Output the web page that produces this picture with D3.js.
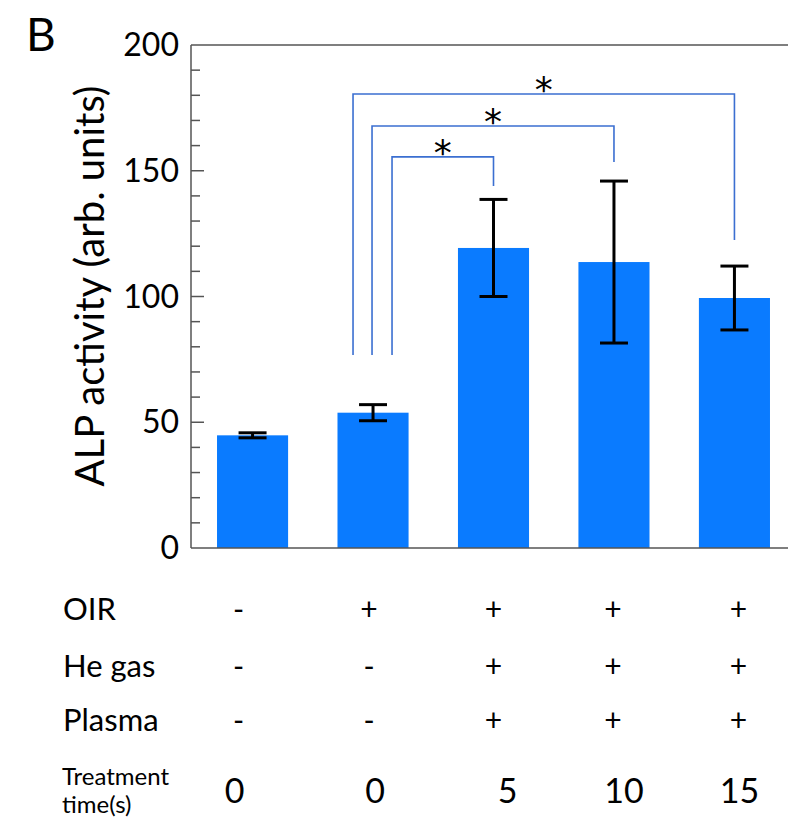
<!DOCTYPE html>
<html>
<head>
<meta charset="utf-8">
<script src="https://cdn.jsdelivr.net/npm/d3@7.9.0/dist/d3.min.js"></script>
<style>
  body { margin: 0; background: #fff; }
  svg { font-family: Lato, 'Open Sans', sans-serif; }
</style>
</head>
<body>
<svg id="chart" width="788" height="824"></svg>
<script>
const groups = ['g1', 'g2', 'g3', 'g4', 'g5'];
const means = [44.8, 53.8, 119.3, 113.7, 99.4];
const errors = [1.0, 3.2, 19.3, 32.2, 12.7];
const yTicks = [0, 50, 100, 150, 200];

// significance brackets: from group, to group, bracket height, leg ends
const bracketFrom = [1, 1, 1];
const bracketTo = [2, 3, 4];
const bracketTop = [155.5, 167.8, 180.5];
const bracketLeftEnd = [76.7, 76.7, 76.7];
const bracketRightEnd = [143.9, 153.5, 122.5];

// condition table below the chart
const rowLabels = ['OIR', 'He gas', 'Plasma'];
const oir = ['-', '+', '+', '+', '+'];
const heGas = ['-', '-', '+', '+', '+'];
const plasma = ['-', '-', '+', '+', '+'];
const times = ['0', '0', '5', '10', '15'];

const svg = d3.select('#chart');
const blue = '#0a7bff';
const bracketBlue = '#3b6fd1';

let x = d3.scaleBand().domain(groups).range([191, 796])
  .paddingInner(0.41).paddingOuter(0.216);
let y = d3.scaleLinear().domain([0, 200]).range([548, 45]);
let cx = (i) => x(groups[i]) + x.bandwidth() / 2;

// panel letter
svg.append('text').attr('x', 26).attr('y', 51)
  .attr('font-size', 46).text('B');

// bars
svg.selectAll('rect.bar').data(means).join('rect')
  .attr('class', 'bar')
  .attr('x', (d, i) => x(groups[i]))
  .attr('width', x.bandwidth())
  .attr('y', (d) => y(d))
  .attr('height', (d) => y(0) - y(d))
  .attr('fill', blue);

// error bars
let eb = svg.append('g').attr('stroke', '#000').attr('stroke-width', 3);
means.forEach((m, i) => {
  let c = cx(i);
  eb.append('line').attr('x1', c).attr('x2', c)
    .attr('y1', y(m + errors[i])).attr('y2', y(m - errors[i]));
  [m + errors[i], m - errors[i]].forEach((v) => {
    eb.append('line').attr('x1', c - 14).attr('x2', c + 14)
      .attr('y1', y(v)).attr('y2', y(v));
  });
});

// axis: minor ticks every 10, major every 50
let axis = svg.append('g').attr('stroke', '#555').attr('stroke-width', 1.5);
axis.append('line').attr('x1', 191).attr('x2', 191)
  .attr('y1', y(200)).attr('y2', y(0));
axis.append('line').attr('x1', 191).attr('x2', 788)
  .attr('y1', y(200)).attr('y2', y(200));
axis.append('line').attr('x1', 191).attr('x2', 788)
  .attr('y1', y(0)).attr('y2', y(0));
d3.range(10, 200, 10).forEach((v) => {
  let len = v % 50 === 0 ? 13 : 9;
  axis.append('line').attr('x1', 191).attr('x2', 191 + len)
    .attr('y1', y(v)).attr('y2', y(v));
});

svg.selectAll('text.ytick').data(yTicks).join('text')
  .attr('class', 'ytick')
  .attr('x', 179)
  .attr('y', (d) => y(d))
  .attr('dy', '0.35em')
  .attr('text-anchor', 'end')
  .attr('font-size', 32)
  .text((d) => d);

svg.append('text')
  .attr('transform', `translate(104, 286) rotate(-90)`)
  .attr('text-anchor', 'middle')
  .attr('font-size', 40)
  .text('ALP activity (arb. units)');

// significance brackets
let legOffset = [19, -1, -20];
let br = svg.append('g').attr('stroke', bracketBlue).attr('stroke-width', 1.6)
  .attr('fill', 'none');
bracketFrom.forEach((f, i) => {
  let x1 = cx(f) + legOffset[i];
  let x2 = cx(bracketTo[i]);
  br.append('path').attr('d',
    `M${x1},${y(bracketLeftEnd[i])}V${y(bracketTop[i])}H${x2}V${y(bracketRightEnd[i])}`);
  svg.append('text')
    .attr('x', (x1 + x2) / 2)
    .attr('y', y(bracketTop[i]) + 8)
    .attr('text-anchor', 'middle')
    .attr('font-family', 'DejaVu Sans')
    .attr('font-size', 36)
    .text('*');
});

// condition table
let colOffset = [-14, -4, 0, -1, 4];
let timeOffset = [-18, 2, 14, 10, 5];
let rowY = [609, 666, 720];
[oir, heGas, plasma].forEach((row, r) => {
  svg.append('text').attr('x', 63).attr('y', rowY[r]).attr('dy', '0.35em')
    .attr('font-size', 31).text(rowLabels[r]);
  row.forEach((s, i) => {
    svg.append('text').attr('x', cx(i) + colOffset[i]).attr('y', rowY[r])
      .attr('dy', '0.35em').attr('text-anchor', 'middle')
      .attr('font-size', 30).text(s);
  });
});
svg.append('text').attr('x', 62).attr('y', 785).attr('font-size', 24)
  .text('Treatment');
svg.append('text').attr('x', 62).attr('y', 813).attr('font-size', 24)
  .text('time(s)');
times.forEach((t, i) => {
  svg.append('text').attr('x', cx(i) + timeOffset[i])
    .attr('y', 791).attr('dy', '0.35em').attr('text-anchor', 'middle')
    .attr('font-size', 34).text(t);
});
</script>
</body>
</html>
